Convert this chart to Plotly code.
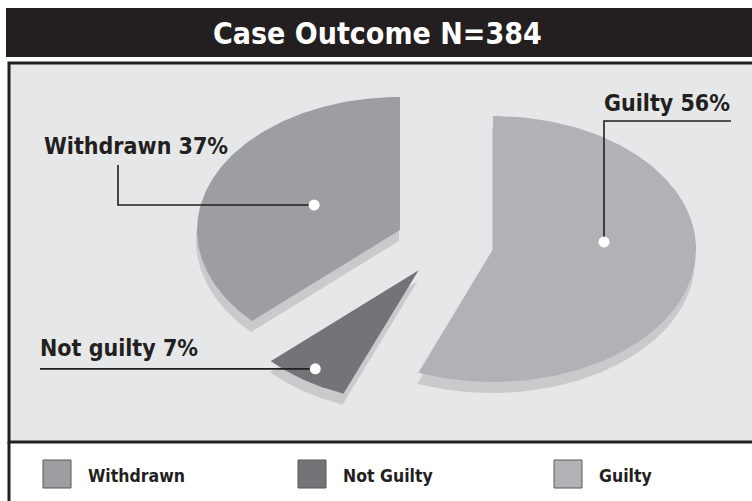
import numpy as np
import plotly.graph_objects as go

# ---------------- data ----------------
title_text = "Case Outcome N=384"
categories = ["Guilty", "Not guilty", "Withdrawn"]   # clockwise from 12 o'clock
percent = [56, 7, 37]
legend_labels = ["Withdrawn", "Not Guilty", "Guilty"]
legend_keys = ["Withdrawn", "Not guilty", "Guilty"]

# ---------------- styling / geometry ----------------
W, H = 752, 501
FONT = "Liberation Sans Narrow, DejaVu Sans Condensed, Arial Narrow, sans-serif"
DARK = "#231f20"
colors = {"Guilty": "#b1b2b5", "Not guilty": "#737477", "Withdrawn": "#9d9ea2"}
shadow_color = "#c9cacc"
bg_plot = "#e6e7e8"
cx, cy = 446.6, 243.2          # pie centre (screen pixel space)
rx, ry = 203, 133              # ellipse radii (tilted pie)
pull = {"Guilty": 0.233, "Not guilty": 0.245, "Withdrawn": 0.25}
depth = (-1, 11)               # 3D thickness offset
# label anchor inside slice: (fraction along the slice angle, fraction of radius)
anchor = {"Guilty": (0.419, 0.549), "Not guilty": (0.51, 0.90), "Withdrawn": (0.504, 0.463)}

fig = go.Figure()


def ell(theta, fx=1.0):
    return rx * fx * np.sin(theta), -ry * fx * np.cos(theta)


total = sum(percent)
slices = []
start = 0.0
for cat, p in zip(categories, percent):
    a0 = start
    a1 = start + 2 * np.pi * p / total
    start = a1
    mid = (a0 + a1) / 2
    ox, oy = ell(mid, pull[cat])
    ax, ay = cx + ox, cy + oy
    th = np.linspace(a0, a1, 160)
    xs = np.concatenate([[ax], ax + rx * np.sin(th), [ax]])
    ys = np.concatenate([[ay], ay - ry * np.cos(th), [ay]])
    slices.append((cat, p, a0, a1, ax, ay, xs, ys))

# shadows (depth) first
for cat, p, a0, a1, ax, ay, xs, ys in slices:
    fig.add_trace(go.Scatter(x=xs + depth[0], y=ys + depth[1], mode="lines", fill="toself",
                             fillcolor=shadow_color, line=dict(width=0), hoverinfo="skip"))
# top faces
for cat, p, a0, a1, ax, ay, xs, ys in slices:
    fig.add_trace(go.Scatter(x=xs, y=ys, mode="lines", fill="toself",
                             fillcolor=colors[cat], line=dict(width=0), name=cat,
                             hoverinfo="name"))

LBL = 23
annotations = []
for cat, p, a0, a1, ax, ay, xs, ys in slices:
    fa, fr = anchor[cat]
    t = a0 + fa * (a1 - a0)
    dx, dy = ax + rx * fr * np.sin(t), ay - ry * fr * np.cos(t)
    label = f"{cat} {p}%"
    if cat == "Withdrawn":
        lx, ly = [dx, 118, 118], [dy, dy, 165]
        annotations.append(dict(x=42, y=146, text=label, xanchor="left", yanchor="middle"))
    elif cat == "Not guilty":
        lx, ly = [dx, 40], [dy, dy]
        annotations.append(dict(x=38, y=348, text=label, xanchor="left", yanchor="middle"))
    else:
        lx, ly = [dx, dx, 731], [dy, 121, 121]
        annotations.append(dict(x=602, y=103, text=label, xanchor="left", yanchor="middle"))
    fig.add_trace(go.Scatter(x=lx, y=ly, mode="lines", line=dict(color=DARK, width=1.6),
                             hoverinfo="skip"))
    fig.add_trace(go.Scatter(x=[dx], y=[dy], mode="markers",
                             marker=dict(color="white", size=11, line=dict(width=0)),
                             hoverinfo="skip"))

for a in annotations:
    a.update(xref="x", yref="y", showarrow=False,
             font=dict(family=FONT, size=LBL, color=DARK, weight="bold"))

shapes = [
    # title bar
    dict(type="rect", x0=6, x1=W + 10, y0=8, y1=57, fillcolor=DARK, line=dict(width=0), layer="below"),
    # plot area
    dict(type="rect", x0=9, x1=W + 10, y0=63, y1=442, fillcolor=bg_plot,
         line=dict(color=DARK, width=3), layer="below"),
    dict(type="line", x0=9, x1=9, y0=442, y1=H + 5, line=dict(color=DARK, width=3), layer="below"),
]

annotations.append(dict(x=377, y=33, xref="x", yref="y", text=title_text, showarrow=False,
                        xanchor="center", yanchor="middle",
                        font=dict(family=FONT, size=30, color="white", weight="bold")))

legend_x = [43, 298, 554]
for lab, key, x0 in zip(legend_labels, legend_keys, legend_x):
    shapes.append(dict(type="rect", x0=x0, x1=x0 + 28, y0=460, y1=488, fillcolor=colors[key],
                       line=dict(color="#58595b", width=1)))
    annotations.append(dict(x=x0 + 43, y=476, xref="x", yref="y", text=lab, showarrow=False,
                            xanchor="left", yanchor="middle",
                            font=dict(family=FONT, size=17.5, color=DARK, weight="bold")))

fig.update_layout(
    width=W, height=H, margin=dict(l=0, r=0, t=0, b=0),
    paper_bgcolor="white", plot_bgcolor="white", showlegend=False,
    xaxis=dict(range=[0, W], visible=False, fixedrange=True),
    yaxis=dict(range=[H, 0], visible=False, fixedrange=True),
    shapes=shapes, annotations=annotations,
)

fig.write_html(
    "out.html",
    config={"displayModeBar": False},
    post_script="document.body.style.margin='0';document.body.style.overflow='hidden';",
)
